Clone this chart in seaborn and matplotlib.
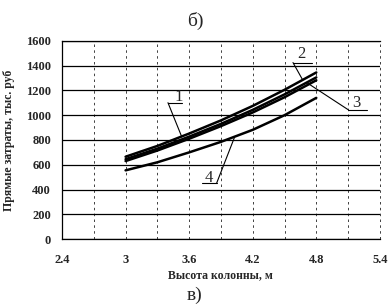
import matplotlib
matplotlib.use("Agg")
import matplotlib.pyplot as plt
import seaborn as sns
import pandas as pd
from matplotlib.ticker import MultipleLocator

# column height, m
height = [3.0, 3.3, 3.6, 3.9, 4.2, 4.5, 4.8]
# direct costs, thousand rub
cost_1 = [665, 752, 852, 958, 1075, 1205, 1345]
cost_2 = [645, 730, 827, 930, 1043, 1168, 1305]
cost_3 = [630, 715, 810, 912, 1022, 1145, 1282]
cost_4 = [555, 620, 700, 785, 882, 1000, 1140]
curve_names = ["1", "2", "3", "4"]

x_ticks = [2.4, 3, 3.6, 4.2, 4.8, 5.4]
x_tick_labels = ["2.4", "3", "3.6", "4.2", "4.8", "5.4"]
y_ticks = [0, 200, 400, 600, 800, 1000, 1200, 1400, 1600]

df = pd.DataFrame({
    "h": height * 4,
    "cost": cost_1 + cost_2 + cost_3 + cost_4,
    "curve": [n for n in curve_names for _ in height],
})

sns.set_style("white")
plt.rcParams["font.family"] = ["Liberation Serif", "DejaVu Serif"]

fig = plt.figure(figsize=(3.9, 3.05), dpi=100)
ax = fig.add_axes([0.159, 0.216, 0.815, 0.65])

sns.lineplot(data=df, x="h", y="cost", units="curve", estimator=None,
             color="black", lw=1.8, ax=ax, legend=False)

ax.set_xlim(2.4, 5.4)
ax.set_ylim(0, 1600)
ax.set_xticks(x_ticks)
ax.set_xticklabels(x_tick_labels)
ax.set_yticks(y_ticks)
ax.xaxis.set_minor_locator(MultipleLocator(0.3))
ax.grid(axis="y", which="major", color="black", lw=0.9, ls="-")
ax.grid(axis="x", which="both", color="#222222", lw=0.6, ls=(0, (3, 4)))
ax.axvline(5.4, color="#222222", lw=0.6, ls=(0, (3, 4)), clip_on=False)
ax.tick_params(axis="both", which="major", labelsize=9, length=3,
               color="black", direction="out")
ax.tick_params(axis="x", which="both", length=0, pad=11)
ax.tick_params(axis="y", pad=5)
for lab in ax.get_xticklabels() + ax.get_yticklabels():
    lab.set_fontweight("bold")
for side in ["left", "bottom", "top"]:
    ax.spines[side].set_color("black")
    ax.spines[side].set_linewidth(0.9)
ax.spines["right"].set_visible(False)

ax.set_xlabel("Высота колонны, м", fontsize=8.5, fontweight="bold", labelpad=2)
ax.set_ylabel("Прямые затраты, тыс. руб", fontsize=8.5, fontweight="bold", labelpad=8)

# curve labels with leader lines: text centre, underline span, leader target
def label(text, tx, ty, ux0, ux1, uy, px, py, from_left=True):
    ax.text(tx, ty, text, fontsize=12, ha="center", va="center")
    ax.plot([ux0, ux1], [uy, uy], color="black", lw=0.8, clip_on=False)
    sx = ux0 if from_left else ux1
    ax.plot([sx, px], [uy, py], color="black", lw=0.8, clip_on=False)

label("1", 3.50, 1145, 3.40, 3.53, 1101, 3.53, 826)
label("2", 4.66, 1490, 4.58, 4.76, 1425, 4.67, 1287)
label("3", 5.18, 1100, 5.10, 5.28, 1045, 4.71, 1263)
label("4", 3.79, 495, 3.72, 3.86, 453, 4.03, 826, from_left=False)

fig.text(0.5, 0.93, "б)", fontsize=14, ha="center", va="center")
fig.text(0.5, 0.033, "в)", fontsize=14, ha="center", va="center")

fig.savefig("out.png", dpi=100)
